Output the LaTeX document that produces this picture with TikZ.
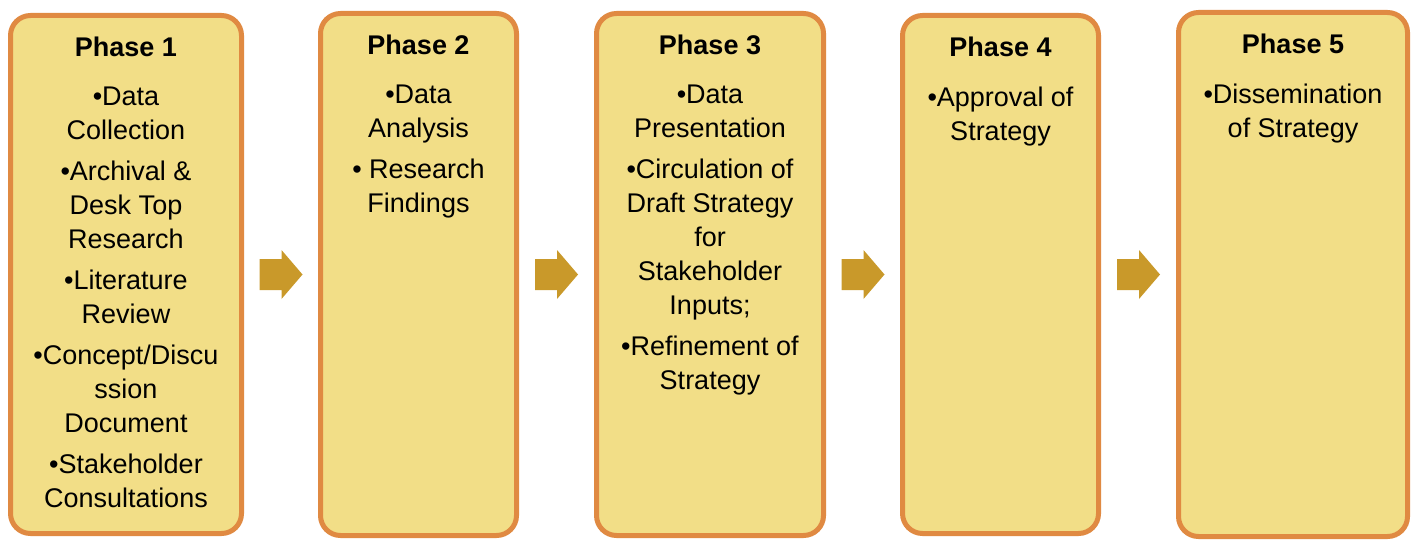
\documentclass[tikz,border=0pt]{standalone}
\usepackage{fontspec}
\setmainfont{Liberation Sans}
\usetikzlibrary{positioning,calc}
\definecolor{boxfill}{RGB}{242,222,135}
\definecolor{boxline}{RGB}{224,138,66}
\definecolor{arrowgold}{RGB}{201,153,42}
\tikzset{
  phasebox/.style={
    draw=boxline,
    fill=boxfill,
    line width=2.5pt,
    rounded corners=10pt
  },
  phasetitle/.style={
    inner sep=0pt,
    font=\fontsize{13.5}{17}\selectfont\bfseries
  },
  phasetext/.style={
    inner sep=0pt,
    align=center,
    font=\fontsize{13.5}{17}\selectfont
  },
  arrowfill/.style={fill=arrowgold}
}
\begin{document}
\begin{tikzpicture}[x=1pt,y=1pt]
    \useasboundingbox (0,0) rectangle (708,-270);
    \node[phasebox, minimum width=115.5pt, minimum height=259pt] (p1) at (63,-137.25) {};
    \node[phasebox, minimum width=98pt, minimum height=261pt] (p2) at (209.25,-137.25) {};
    \node[phasebox, minimum width=113.5pt, minimum height=261pt] (p3) at (355,-137.25) {};
    \node[phasebox, minimum width=98pt, minimum height=259pt] (p4) at (500.25,-137.25) {};
    \node[phasebox, minimum width=114.5pt, minimum height=262pt] (p5) at (646.5,-137.25) {};

    \foreach \i in {1,...,5}
      \node[phasetitle, below=12pt of p\i.north] (t\i) {Phase \i};

    \node[phasetext, below=14.5pt of t1] (b1) {•Data\\ Collection\\[3.5pt]
      •Archival \&\\ Desk Top\\ Research\\[3.5pt]
      •Literature\\ Review\\[3.5pt]
      •Concept/Discu\\ ssion\\ Document\\[3.5pt]
      •Stakeholder\\ Consultations};
    \node[phasetext, below=14.5pt of t2] (b2) {•Data\\ Analysis\\[3.5pt]
      • Research\\ Findings};
    \node[phasetext, below=14.5pt of t3] (b3) {•Data\\ Presentation\\[3.5pt]
      •Circulation of\\ Draft Strategy\\ for\\ Stakeholder\\ Inputs;\\[3.5pt]
      •Refinement of\\ Strategy};
    \node[phasetext, below=14.5pt of t4] (b4) {•Approval of\\ Strategy};
    \node[phasetext, below=14.5pt of t5] (b5) {•Dissemination\\ of Strategy};

    \foreach \a/\b in {p1/p2,p2/p3,p3/p4,p4/p5}
      \fill[arrowfill] ($(\a.east)!0.5!(\b.west)$) +(-10.75,7.75) -- +(0.25,7.75)
        -- +(0.25,12.25) -- +(10.75,0) -- +(0.25,-12.25) -- +(0.25,-7.75)
        -- +(-10.75,-7.75) -- cycle;
\end{tikzpicture}
\end{document}
